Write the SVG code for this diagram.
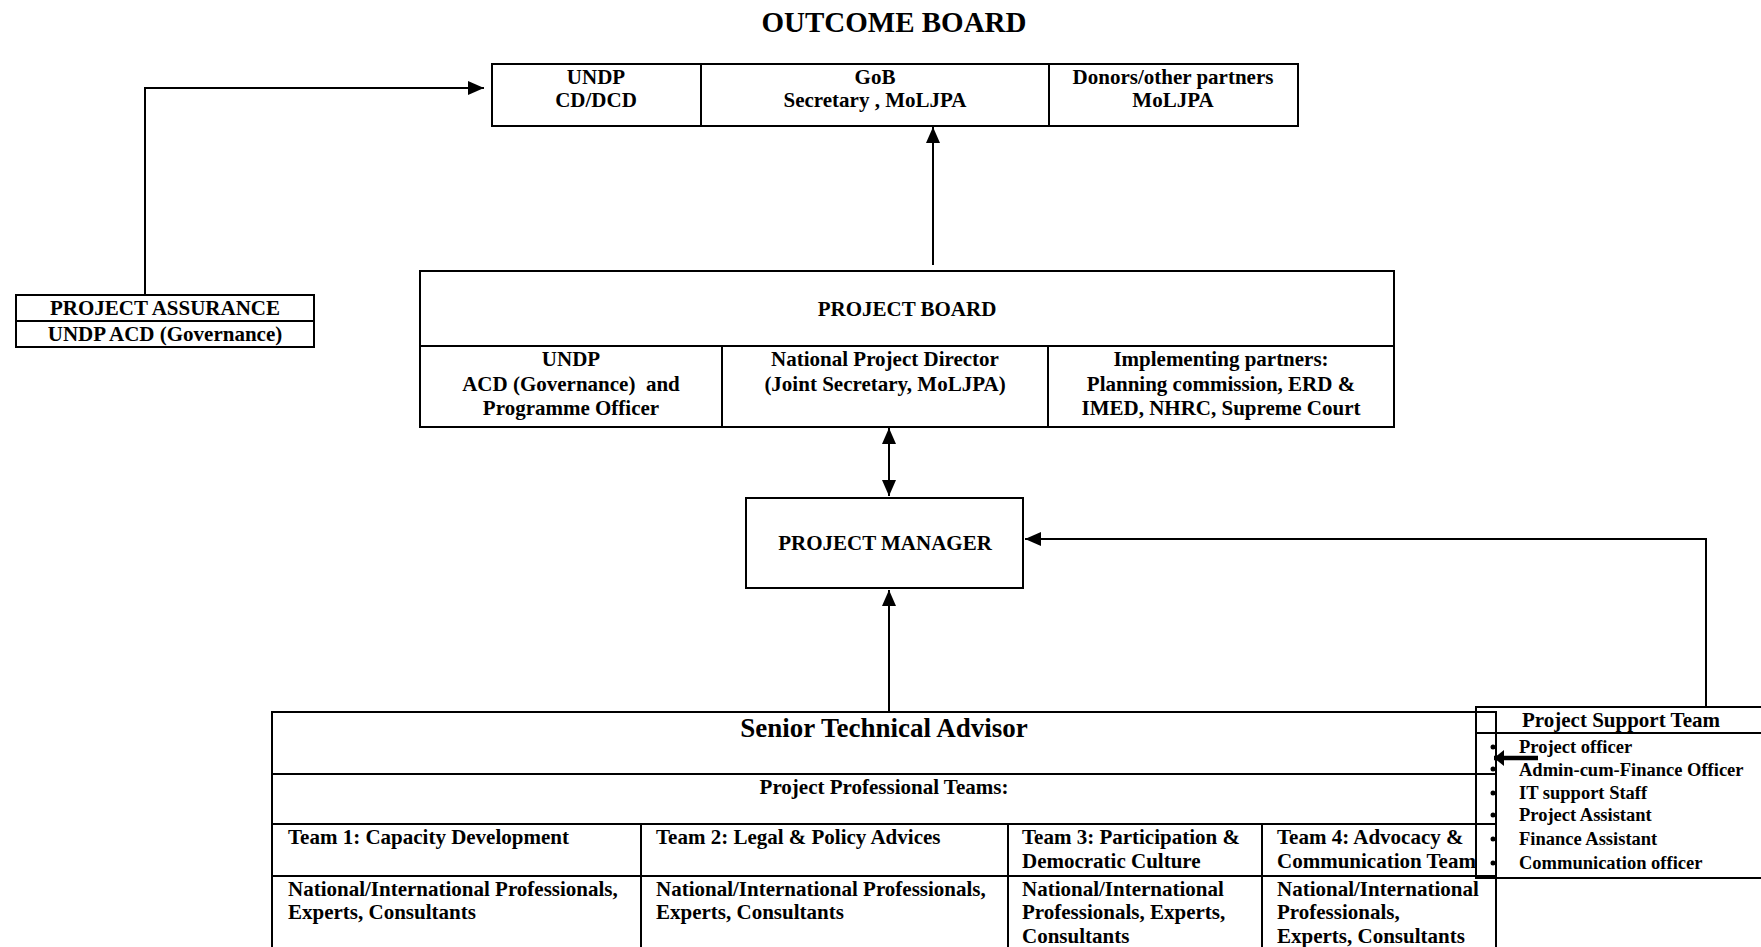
<svg xmlns="http://www.w3.org/2000/svg" width="1761" height="947" viewBox="0 0 1761 947">
<style>
text{font-family:"Liberation Serif","Times New Roman",serif;font-weight:bold;font-size:21px;fill:#000;white-space:pre}
.c{text-anchor:middle}
.box{fill:#fff;stroke:#000;stroke-width:2}
.ln{stroke:#000;stroke-width:2;fill:none}
.con{stroke:#000;stroke-width:2;fill:none}
.big{font-size:27px}
.title{font-size:29px}
.hdr{font-size:21px}
.item{font-size:18.5px}
</style>
<defs>
<marker id="ah" markerUnits="userSpaceOnUse" markerWidth="16" markerHeight="14" refX="16" refY="7" orient="auto-start-reverse">
<path d="M0,0 L16,7 L0,14 Z" fill="#000"/>
</marker>
<marker id="ahs" markerUnits="userSpaceOnUse" markerWidth="10" markerHeight="16" refX="10" refY="8" orient="auto">
<path d="M0,0 L10,8 L0,16 Z" fill="#000"/>
</marker>
</defs>
<rect width="1761" height="947" fill="#fff"/>

<text id="title" class="c title" x="894" y="32">OUTCOME BOARD</text>

<g id="outcome-board">
<rect class="box" x="492" y="64" width="806" height="62"/>
<line class="ln" x1="701" y1="64" x2="701" y2="126"/>
<line class="ln" x1="1049" y1="64" x2="1049" y2="126"/>
<text class="c" x="596" y="84">UNDP</text>
<text class="c" x="596" y="107">CD/DCD</text>
<text class="c" x="875" y="84">GoB</text>
<text class="c" x="875" y="107">Secretary , MoLJPA</text>
<text class="c" x="1173" y="84">Donors/other partners</text>
<text class="c" x="1173" y="107">MoLJPA</text>
</g>

<g id="project-assurance">
<rect class="box" x="16" y="295" width="298" height="52"/>
<line class="ln" x1="16" y1="321" x2="314" y2="321"/>
<text class="c" x="165" y="315">PROJECT ASSURANCE</text>
<text class="c" x="165" y="341">UNDP ACD (Governance)</text>
</g>

<g id="project-board">
<rect class="box" x="420" y="271" width="974" height="156"/>
<line class="ln" x1="420" y1="346" x2="1394" y2="346"/>
<line class="ln" x1="722" y1="346" x2="722" y2="427"/>
<line class="ln" x1="1048" y1="346" x2="1048" y2="427"/>
<text class="c" x="907" y="316">PROJECT BOARD</text>
<text class="c" x="571" y="366">UNDP</text>
<text class="c" x="571" y="391">ACD (Governance)  and</text>
<text class="c" x="571" y="415">Programme Officer</text>
<text class="c" x="885" y="366">National Project Director</text>
<text class="c" x="885" y="391">(Joint Secretary, MoLJPA)</text>
<text class="c" x="1221" y="366">Implementing partners:</text>
<text class="c" x="1221" y="391">Planning commission, ERD &amp;</text>
<text class="c" x="1221" y="415">IMED, NHRC, Supreme Court</text>
</g>

<g id="project-manager">
<rect class="box" x="746" y="498" width="277" height="90"/>
<text class="c" x="885" y="550">PROJECT MANAGER</text>
</g>

<g id="senior-technical-advisor">
<rect class="box" x="272" y="712" width="1224" height="260"/>
<line class="ln" x1="272" y1="774" x2="1496" y2="774"/>
<line class="ln" x1="272" y1="824" x2="1496" y2="824"/>
<line class="ln" x1="272" y1="876" x2="1496" y2="876"/>
<line class="ln" x1="641" y1="824" x2="641" y2="972"/>
<line class="ln" x1="1008" y1="824" x2="1008" y2="972"/>
<line class="ln" x1="1262" y1="824" x2="1262" y2="972"/>
<text class="c big" x="884" y="737">Senior Technical Advisor</text>
<text class="c" x="884" y="794">Project Professional Teams:</text>
<text x="288" y="844">Team 1: Capacity Development</text>
<text x="288" y="896">National/International Professionals,</text>
<text x="288" y="919">Experts, Consultants</text>
<text x="656" y="844">Team 2: Legal &amp; Policy Advices</text>
<text x="656" y="896">National/International Professionals,</text>
<text x="656" y="919">Experts, Consultants</text>
<text x="1022" y="844">Team 3: Participation &amp;</text>
<text x="1022" y="868">Democratic Culture</text>
<text x="1022" y="896">National/International</text>
<text x="1022" y="919">Professionals, Experts,</text>
<text x="1022" y="943">Consultants</text>
<text x="1277" y="844">Team 4: Advocacy &amp;</text>
<text x="1277" y="868">Communication Team</text>
<text x="1277" y="896">National/International</text>
<text x="1277" y="919">Professionals,</text>
<text x="1277" y="943">Experts, Consultants</text>
</g>

<g id="project-support-team">
<rect x="1476" y="707" width="300" height="171" fill="none" stroke="#000" stroke-width="2"/>
<line class="ln" x1="1476" y1="733" x2="1776" y2="733"/>
<text class="hdr" x="1522" y="727">Project Support Team</text>
<g fill="#000">
<circle cx="1493" cy="747" r="2.5"/>
<circle cx="1493" cy="769" r="2.5"/>
<circle cx="1493" cy="793" r="2.5"/>
<circle cx="1493" cy="815" r="2.5"/>
<circle cx="1493" cy="839" r="2.5"/>
<circle cx="1493" cy="863" r="2.5"/>
</g>
<text class="item" x="1519" y="753">Project officer</text>
<text class="item" x="1519" y="776">Admin-cum-Finance Officer</text>
<text class="item" x="1519" y="799">IT support Staff</text>
<text class="item" x="1519" y="821">Project Assistant</text>
<text class="item" x="1519" y="845">Finance Assistant</text>
<text class="item" x="1519" y="869">Communication officer</text>
</g>

<g id="connectors">
<path class="con" d="M145,295 V88 H484" marker-end="url(#ah)"/>
<path class="con" d="M933,265 V127" marker-end="url(#ah)"/>
<path class="con" d="M889,428 V496" marker-start="url(#ah)" marker-end="url(#ah)"/>
<path class="con" d="M889,712 V590" marker-end="url(#ah)"/>
<path class="con" d="M1706,707 V539 H1025" marker-end="url(#ah)"/>
<path d="M1538,758 H1494" stroke="#000" stroke-width="4.5" fill="none" marker-end="url(#ahs)"/>
</g>
</svg>
